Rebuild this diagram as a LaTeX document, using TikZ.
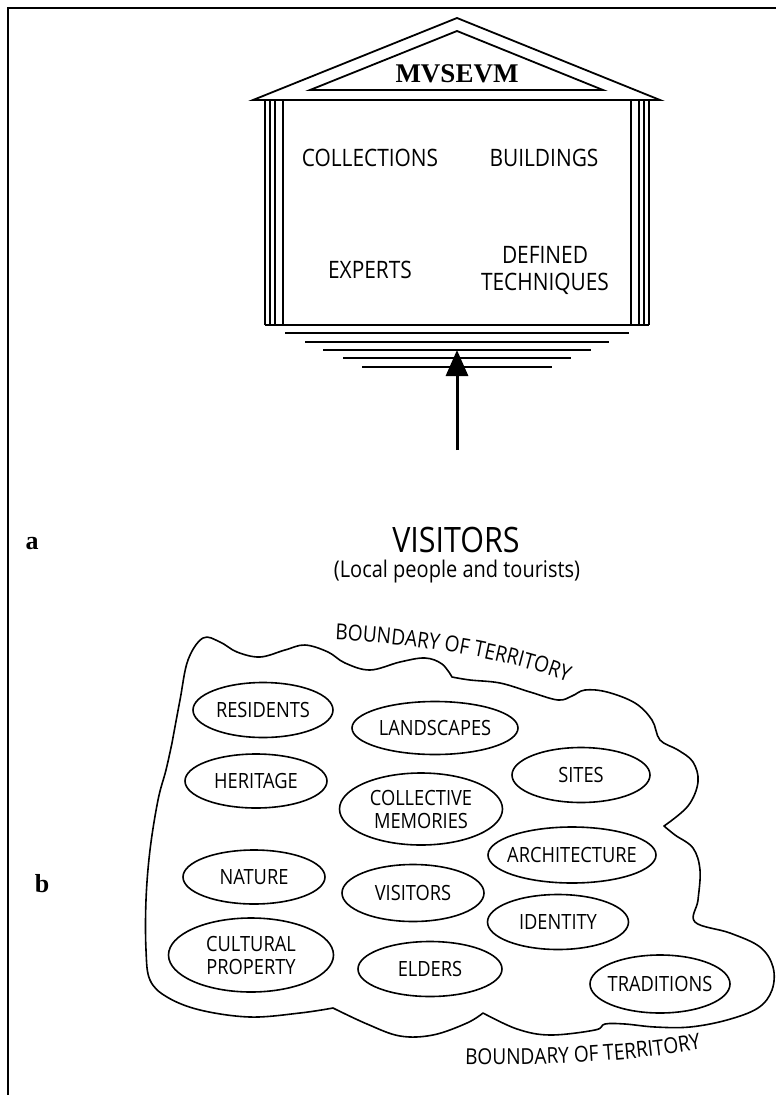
\documentclass[tikz,border=0pt]{standalone}
\usepackage{fontspec}
\newfontfamily\lsans[FakeStretch=0.87]{Open Sans}
\newfontfamily\lserif{Liberation Serif}
\usetikzlibrary{shapes.geometric,decorations.text,arrows.meta}
\begin{document}
\begin{tikzpicture}[x=1pt,y=1pt,
  frame/.style={line width=2pt},
  roof/.style={line width=1.8pt,line join=miter},
  col/.style={line width=1.1pt},
  stepline/.style={line width=1.3pt},
  ell/.style={draw,ellipse,line width=1.6pt,inner sep=0pt},
  lab/.style={font=\lsans\fontsize{21}{23}\selectfont,align=center,inner sep=0pt},
  tlab/.style={font=\lsans\fontsize{24}{27}\selectfont,align=center,inner sep=0pt},
  panel/.style={font=\lserif\bfseries\fontsize{26}{26}\selectfont,inner sep=0pt},
  blob/.style={line width=1.6pt,line join=round}
]
\useasboundingbox (0,0) rectangle (776,-1095);
% frame
\draw[frame] (776,-8) -- (8,-8) -- (8,-1095);
% roof
\draw[roof] (253,-100) -- (457,-18) -- (660,-100) -- cycle;
\draw[roof] (310,-90) -- (457,-31) -- (603,-90) -- cycle;
\node[font=\lserif\bfseries\fontsize{27}{27}\selectfont,inner sep=0pt] (title) at (457,-74) {MVSEVM};
% columns
\foreach \cx in {265,270,275,283,631,639,644,649}
  \draw[col] (\cx,-100) -- (\cx,-325);
\draw[stepline] (265,-325) -- (649,-325);
% steps
\draw[stepline] (285,-333) -- (629,-333);
\draw[stepline] (305,-342) -- (609,-342);
\draw[stepline] (323,-350) -- (591,-350);
\draw[stepline] (343,-358) -- (571,-358);
\draw[stepline] (362,-367) -- (552,-367);
% temple contents
\node[tlab] (coll) at (370,-158) {COLLECTIONS};
\node[tlab] (build) at (544,-158) {BUILDINGS};
\node[tlab] (exp) at (370,-270) {EXPERTS};
\node[tlab] (tech) at (545,-270) {DEFINED\\TECHNIQUES};
% arrow and visitors
\coordinate (atail) at (457,-450);
\coordinate (atip) at (457,-350);
\draw[line width=3pt,-{Triangle[width=22pt,length=26pt]}] (atail) -- (atip);
\node[font=\lsans\fontsize{35}{35}\selectfont,inner sep=0pt] (vis) at (456,-540) {VISITORS};
\node[font=\lsans\fontsize{23}{23}\selectfont,inner sep=0pt] (sub) at (457,-572) {(Local people and tourists)};
\node[panel] (pa) at (32,-544) {a};
\node[panel] (pb) at (42,-884) {b};
% territory boundary
\draw[blob]
  plot[smooth,tension=0.6] coordinates {(172,-743) (180,-700) (188,-660) (203,-638) (220,-642) (237,-652) (260,-657) (285,-650) (305,-645) (328,-652) (345,-663) (370,-670) (400,-662) (425,-658) (442,-664) (452,-677)}
  -- plot[smooth,tension=0.6] coordinates {(452,-677) (470,-680) (500,-683) (530,-692) (558,-700) (572,-696) (585,-690) (607,-692) (635,-703) (652,-720) (660,-740) (678,-750) (693,-762) (698,-782) (688,-806) (664,-826)}
  -- plot[smooth,tension=0.6] coordinates {(664,-826) (675,-835) (693,-848) (700,-870) (698,-900) (695,-922) (730,-933) (760,-947) (773,-967) (772,-990) (758,-1008) (727,-1020) (690,-1027) (655,-1027) (625,-1024) (605,-1024) (595,-1030) (550,-1035) (517,-1029) (483,-1013)}
  -- plot[smooth,tension=0.6] coordinates {(483,-1013) (467,-1023) (433,-1035) (400,-1036) (367,-1024) (333,-1008)}
  -- plot[smooth,tension=0.6] coordinates {(333,-1008) (300,-1013) (250,-1017) (200,-1010) (167,-997) (150,-980) (146,-950) (146,-900) (150,-850) (158,-800) (166,-770) (172,-743)}
  -- cycle;
\path[decorate,decoration={text along path,text align=left,
  text={|\lsans\fontsize{22}{24}\selectfont|BOUNDARY OF TERRITORY}}]
  (335,-640) .. controls (400,-643) and (510,-655) .. (588,-690);
\path[decorate,decoration={text along path,text align=left,
  text={|\lsans\fontsize{22}{24}\selectfont|BOUNDARY OF TERRITORY}}]
  (465,-1064) .. controls (560,-1066) and (650,-1060) .. (715,-1046);
% territory items
\node[ell,minimum width=140pt,minimum height=55pt,label={[lab]center:RESIDENTS}] (residents) at (263,-710) {};
\node[ell,minimum width=166pt,minimum height=53pt,label={[lab]center:LANDSCAPES}] (landscapes) at (435,-728) {};
\node[ell,minimum width=142pt,minimum height=54pt,label={[lab]center:HERITAGE}] (heritage) at (256,-781) {};
\node[ell,minimum width=163pt,minimum height=72pt,label={[lab]center:{COLLECTIVE\\MEMORIES}}] (memories) at (421,-809) {};
\node[ell,minimum width=138pt,minimum height=55pt,label={[lab]center:SITES}] (sites) at (581,-775) {};
\node[ell,minimum width=168pt,minimum height=56pt,label={[lab]center:ARCHITECTURE}] (architecture) at (572,-855) {};
\node[ell,minimum width=142pt,minimum height=54pt,label={[lab]center:NATURE}] (nature) at (254,-877) {};
\node[ell,minimum width=142pt,minimum height=57pt,label={[lab]center:VISITORS}] (visitors) at (413,-893) {};
\node[ell,minimum width=141pt,minimum height=55pt,label={[lab]center:IDENTITY}] (identity) at (558,-922) {};
\node[ell,minimum width=165pt,minimum height=74pt,label={[lab]center:{CULTURAL\\PROPERTY}}] (cultural) at (251,-955) {};
\node[ell,minimum width=144pt,minimum height=55pt,label={[lab]center:ELDERS}] (elders) at (430,-969) {};
\node[ell,minimum width=140pt,minimum height=58pt,label={[lab]center:TRADITIONS}] (traditions) at (660,-984) {};
\end{tikzpicture}
\end{document}
